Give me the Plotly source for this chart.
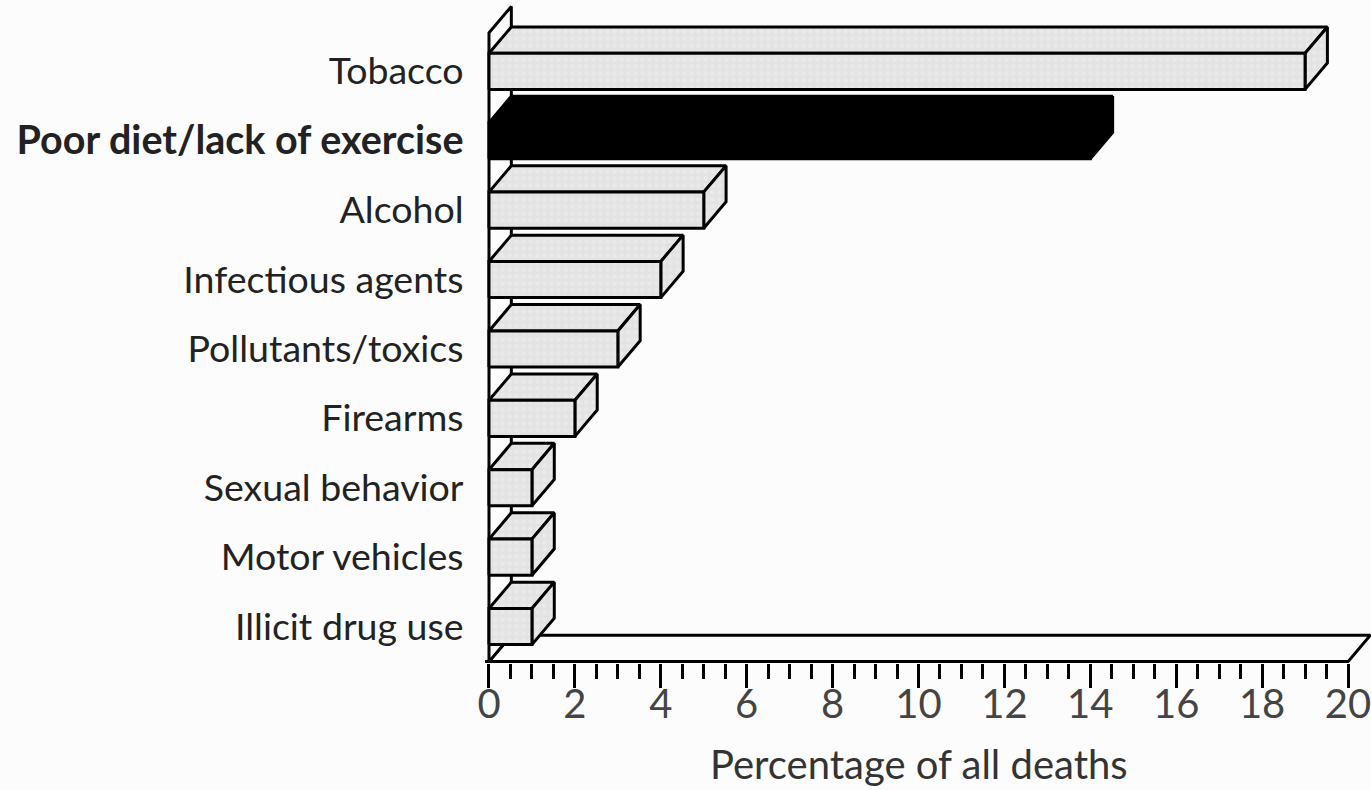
import plotly.graph_objects as go

# ---- data (top to bottom as shown) ----
categories = ["Tobacco", "Poor diet/lack of exercise", "Alcohol", "Infectious agents",
              "Pollutants/toxics", "Firearms", "Sexual behavior", "Motor vehicles",
              "Illicit drug use"]
values = [19, 14, 5, 4, 3, 2, 1, 1, 1]
highlight = "Poor diet/lack of exercise"
x_ticks = list(range(0, 21, 2))
x_title = "Percentage of all deaths"

# ---- style constants ----
DX, DY = 0.52, 0.38        # 3-D depth offset (x in value units, y in category units)
BAR_H = 0.52               # front-face height in category units
BASE = 0.245               # gap between category slot and front-face bottom
WALL_TOP = 9.06
XMAX = 20
LINE_W = 3
GREY = "#e3e3e3"
BG = "#fcfcfc"

fig = go.Figure()

def poly(xs, ys, fill, line_color="black", pattern=None):
    kw = dict(x=xs, y=ys, mode="lines", fill="toself", fillcolor=fill,
              line=dict(color=line_color, width=LINE_W), hoverinfo="skip",
              showlegend=False)
    if pattern is not None:
        kw["fillpattern"] = pattern
    fig.add_trace(go.Scatter(**kw))

# floor
poly([0, XMAX, XMAX + DX, DX, 0], [0, 0, DY, DY, 0], BG)
# left wall
poly([0, 0, DX, DX, 0], [0, WALL_TOP, WALL_TOP + DY, DY, 0], BG)

pat = dict(shape=".", bgcolor=GREY, fgcolor="#efefef", size=7, solidity=0.35)
n = len(categories)
for k, (cat, v) in enumerate(zip(categories, values)):
    i = n - 1 - k
    yb = i + BASE
    yt = yb + BAR_H
    dark = cat == highlight
    fill = "black" if dark else GREY
    p = None if dark else pat
    # top face
    poly([0, v, v + DX, DX, 0], [yt, yt, yt + DY, yt + DY, yt], fill, pattern=p)
    # side face
    poly([v, v + DX, v + DX, v, v], [yb, yb + DY, yt + DY, yt, yb], fill, pattern=p)
    # front face
    poly([0, v, v, 0, 0], [yb, yb, yt, yt, yb], fill, pattern=p)

# floor front edge (baseline)
fig.add_trace(go.Scatter(x=[-0.093, XMAX], y=[0, 0], mode="lines",
                         line=dict(color="black", width=LINE_W), hoverinfo="skip",
                         showlegend=False))

tickvals = [n - 1 - k + BASE + BAR_H / 2 for k in range(n)]
ticktext = [('<span style="font-size:39.5px"><b>%s</b></span>' % c) if c == highlight else c
            for c in categories]

minor_vals = [t / 2 for t in range(0, 2 * XMAX + 1) if t % 4 != 0]

fig.update_layout(
    width=1371, height=790, autosize=False,
    margin=dict(l=485, r=0, t=0, b=127, pad=0),
    paper_bgcolor=BG, plot_bgcolor=BG,
    font=dict(family="Lato", color="#333333"),
    xaxis=dict(range=[-0.093, 20.535], showgrid=False, zeroline=False, showline=False,
               tickmode="array", tickvals=x_ticks, ticks="outside", ticklen=24,
               tickwidth=LINE_W, tickcolor="black", ticklabeloverflow="allow",
               ticklabelstandoff=-18,
               tickfont=dict(size=40, family="Lato", color="#444444"),
               minor=dict(tickmode="array", tickvals=minor_vals, ticks="outside",
                          ticklen=15, tickwidth=LINE_W, tickcolor="black", showgrid=False)),
    yaxis=dict(range=[-0.02, 9.533], showgrid=False, zeroline=False, showline=False,
               tickmode="array", tickvals=tickvals, ticktext=ticktext,
               ticks="outside", ticklen=13, tickcolor="rgba(0,0,0,0)",
               tickfont=dict(size=37.5, family="Lato", color="#222222")),
    annotations=[dict(text=x_title, xref="paper", yref="paper", x=0.49, y=-0.153,
                      xanchor="center", yanchor="middle", showarrow=False,
                      font=dict(size=40, family="Lato", color="#333333"))],
)

fig.write_html("out.html")
